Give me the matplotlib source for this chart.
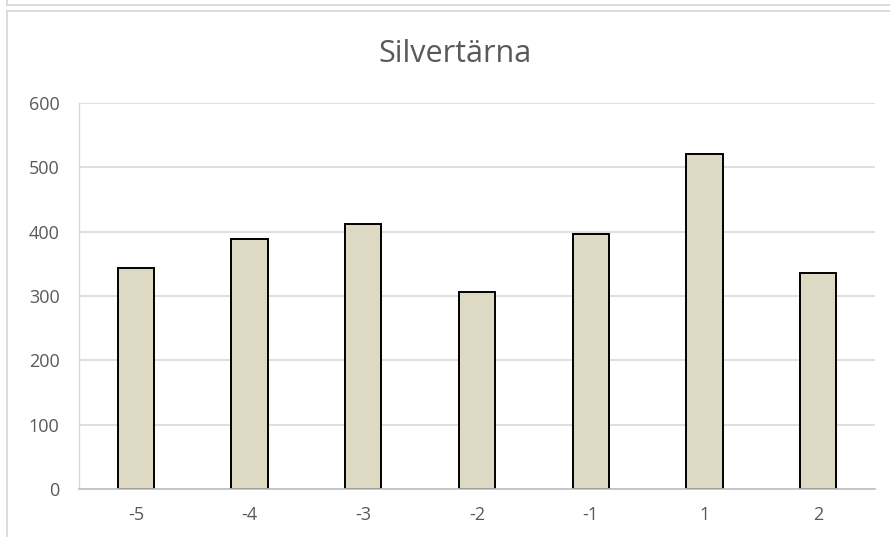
import matplotlib
matplotlib.use("Agg")
import matplotlib.pyplot as plt
from matplotlib.lines import Line2D

# data
categories = ["-5", "-4", "-3", "-2", "-1", "1", "2"]
values = [344, 388, 411, 306, 396, 520, 335]
yticks = [0, 100, 200, 300, 400, 500, 600]

plt.rcParams["font.family"] = ["Open Sans", "DejaVu Sans"]
text_col = "#595959"

fig = plt.figure(figsize=(8.9, 5.37), dpi=100)
ax = fig.add_axes([79 / 890, 1 - 489.3 / 537, (875 - 79) / 890, (489.3 - 102.7) / 537])

x = range(len(categories))
ax.bar(x, values, width=0.32, color="#ddd9c3", edgecolor="black", linewidth=1.4, zorder=2)

ax.set_xlim(-0.5, len(categories) - 0.5)
ax.set_ylim(0, 600)
ax.set_yticks(yticks)
ax.set_xticks(list(x))
ax.set_xticklabels(categories)
ax.yaxis.grid(True, color="#d9d9d9", linewidth=1.2, zorder=0)
ax.set_axisbelow(True)

for s in ["top", "right"]:
    ax.spines[s].set_visible(False)
ax.spines["left"].set_color("#dcd8c0")
ax.spines["left"].set_linewidth(1.0)
ax.spines["bottom"].set_color("#bfbfbf")
ax.spines["bottom"].set_linewidth(1.2)
ax.spines["bottom"].set_zorder(3)

ax.tick_params(axis="both", length=0, labelsize=13, colors=text_col)
ax.tick_params(axis="y", pad=14)
ax.tick_params(axis="x", pad=12)

fig.text(455 / 890, 1 - 62 / 537, "Silvertärna", ha="center", va="baseline",
         fontsize=22, color=text_col)

# chart frame lines (this chart and the bottom of the one above)
frame = "#d9d9d9"
W, H = 890, 537
def px_line(x0, y0, x1, y1):
    fig.add_artist(Line2D([x0 / W, x1 / W], [1 - y0 / H, 1 - y1 / H],
                          color=frame, linewidth=1.3, transform=fig.transFigure))

px_line(7, 0, 7, 5)
px_line(7, 5, 890, 5)
px_line(7, 11, 890, 11)
px_line(7, 11, 7, 537)

fig.savefig("out.png", dpi=100, facecolor="white")
